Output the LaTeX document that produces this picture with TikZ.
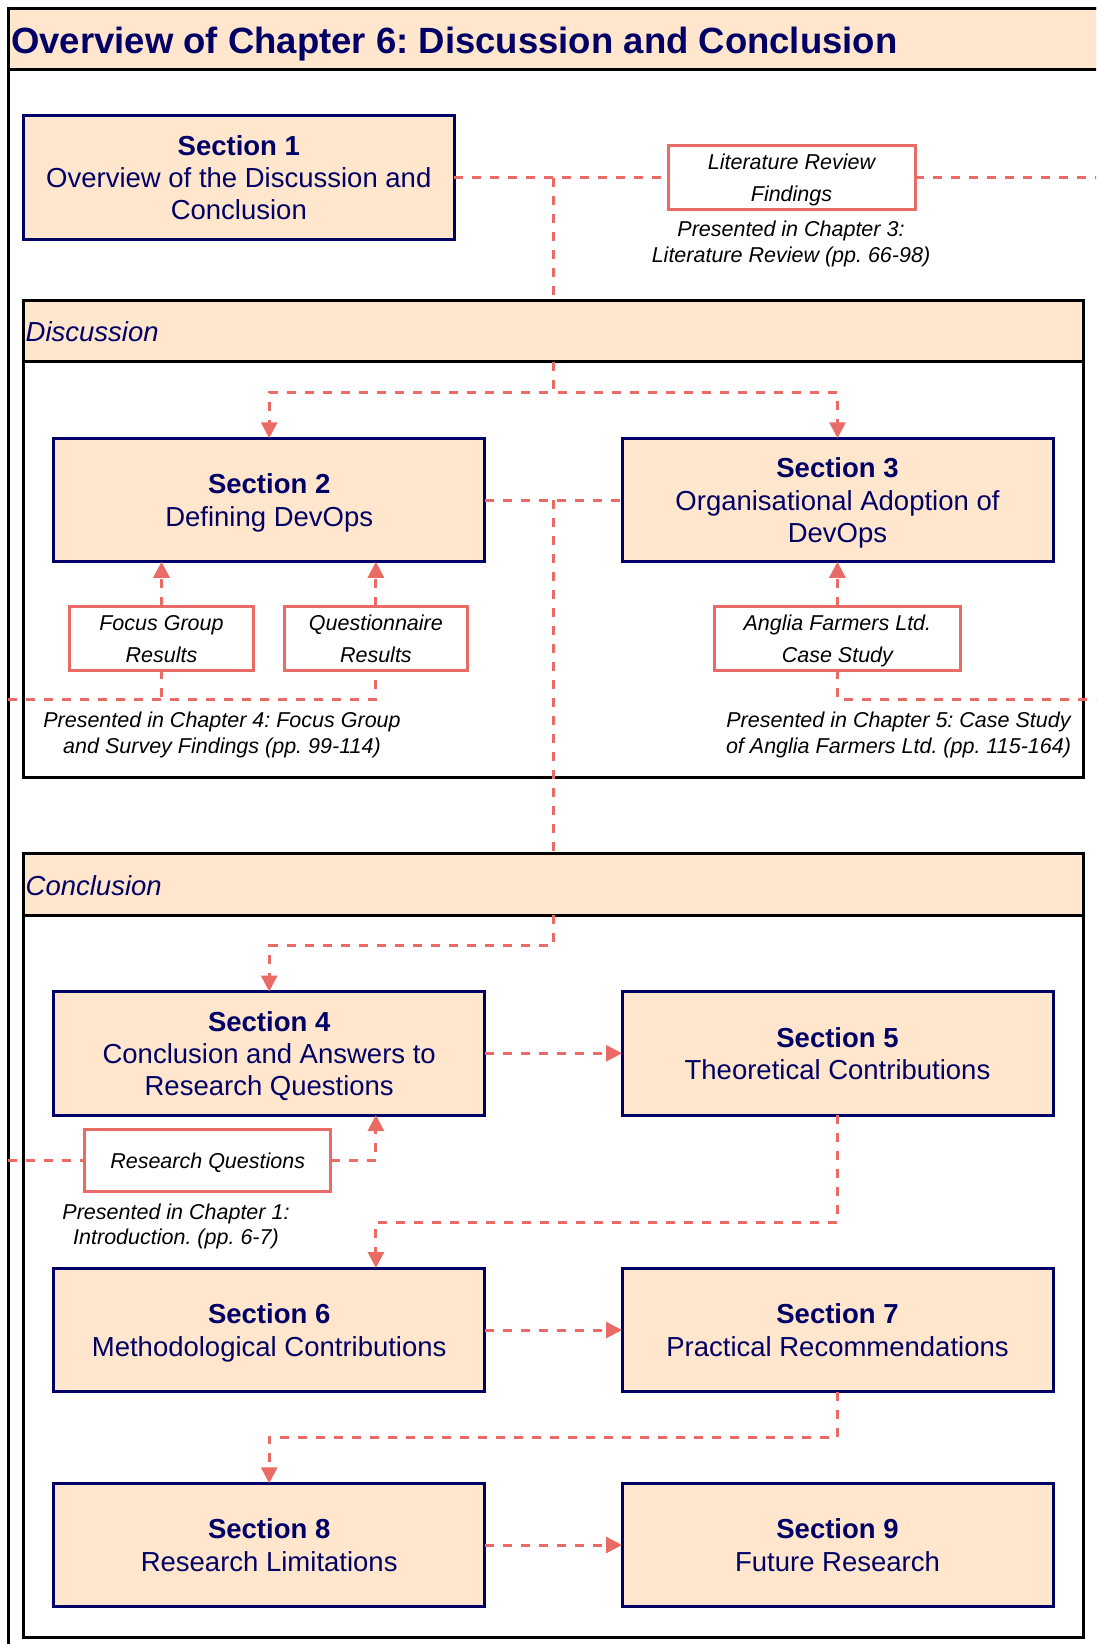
\documentclass[tikz,border=0pt]{standalone}
\usepackage{fontspec}
\setmainfont{Liberation Sans}
\usetikzlibrary{arrows.meta}

\definecolor{peach}{HTML}{FFE6CC}
\definecolor{navy}{HTML}{000066}
\definecolor{salmon}{HTML}{EA6B66}

\frenchspacing

% struts that keep every line of a block the same height
\newcommand{\secln}{\rule[-6.15pt]{0pt}{32.3pt}}
\newcommand{\noteln}{\rule[-8.3pt]{0pt}{32pt}}
\newcommand{\capln}{\rule[-5.05pt]{0pt}{25.5pt}}

\begin{document}
\begin{tikzpicture}[x=1pt,y=-1pt,
  section/.style={draw=navy, line width=3pt, fill=peach, outer sep=0pt,
    minimum width=431pt, minimum height=123.5pt, inner sep=0pt,
    align=center, text=navy, font=\fontsize{27.5}{32.3}\selectfont},
  source/.style={draw=salmon, line width=3pt, fill=white, outer sep=0pt,
    minimum height=62pt, inner sep=0pt, align=center,
    font=\fontsize{21.5}{32}\selectfont\itshape},
  caption/.style={inner sep=0pt, align=center,
    font=\fontsize{21.5}{25.5}\selectfont\itshape},
  lanebody/.style={draw=black, line width=3pt, outer sep=0pt, inner sep=0pt,
    minimum width=1060pt},
  lanehead/.style={lanebody, fill=peach},
  lanelabel/.style={inner sep=0pt, anchor=base west, text=navy,
    font=\fontsize{27.5}{32}\selectfont\itshape},
  link/.style={draw=salmon, line width=3pt, dash pattern=on 9pt off 9pt},
  flow/.style={link, -{Triangle[length=16pt,width=16pt]}}
]
\useasboundingbox (0,0) rectangle (1096,1644);
\clip (0,0) rectangle (1096,1644);

% outer frame and chapter title band
\node[draw=black, line width=3pt, inner sep=0pt, minimum width=1102pt,
      minimum height=1652pt] (frame) at (559,834) {};
\node[draw=black, fill=peach, line width=3pt, inner sep=0pt, minimum width=1102pt,
      minimum height=61.5pt] (titleband) at (559,38.75) {};
\node[inner sep=0pt, anchor=base west, text=navy,
      font=\fontsize{36.5}{40}\selectfont\bfseries] (title) at (11,53.5)
  {Overview of Chapter 6: Discussion and Conclusion};

% discussion lane
\node[lanebody, minimum height=476.3pt] (disc) at (553,538.85) {};
\node[lanehead, minimum height=61pt] (dischead) at (553,331.2) {};
\node[lanelabel] (disclabel) at (25.5,341.7) {Discussion};

% conclusion lane
\node[lanebody, minimum height=783.7pt] (conc) at (553,1245.15) {};
\node[lanehead, minimum height=61.7pt] (conchead) at (553,884.15) {};
\node[lanelabel] (conclabel) at (25.5,895) {Conclusion};

% section boxes
\node[section] (s1) at (238.8,177.5)
  {\textbf{Section 1}\secln\\Overview of the Discussion and\secln\\Conclusion\secln};
\node[section] (s2) at (269.2,500) {\textbf{Section 2}\secln\\Defining DevOps\secln};
\node[section] (s3) at (837.5,500)
  {\textbf{Section 3}\secln\\Organisational Adoption of\secln\\DevOps\secln};
\node[section] (s4) at (269.2,1053.3)
  {\textbf{Section 4}\secln\\Conclusion and Answers to\secln\\Research Questions\secln};
\node[section] (s5) at (837.5,1053.3) {\textbf{Section 5}\secln\\Theoretical Contributions\secln};
\node[section] (s6) at (269.2,1330) {\textbf{Section 6}\secln\\Methodological Contributions\secln};
\node[section] (s7) at (837.5,1330) {\textbf{Section 7}\secln\\Practical Recommendations\secln};
\node[section] (s8) at (269.2,1545) {\textbf{Section 8}\secln\\Research Limitations\secln};
\node[section] (s9) at (837.5,1545) {\textbf{Section 9}\secln\\Future Research\secln};

% source material boxes
\node[source, minimum width=247pt, minimum height=63pt] (lit) at (791.5,177.5)
  {Literature Review\noteln\\Findings\noteln};
\node[source, minimum width=184.6pt] (fg) at (161.5,638.3) {Focus Group\noteln\\Results\noteln};
\node[source, minimum width=183.8pt] (qr) at (375.9,638.3) {Questionnaire\noteln\\Results\noteln};
\node[source, minimum width=245.3pt] (af) at (837.4,638.3)
  {Anglia Farmers Ltd.\noteln\\Case Study\noteln};
\node[source, minimum width=246.2pt, minimum height=62.4pt] (rq) at (207.7,1160.5)
  {Research Questions\noteln};

% where each source is presented
\node[caption] (litcap) at (791,242)
  {Presented in Chapter 3:\capln\\Literature Review (pp. 66-98)\capln};
\node[caption] (fgcap) at (222,733)
  {Presented in Chapter 4: Focus Group\capln\\and Survey Findings (pp. 99-114)\capln};
\node[caption] (afcap) at (898.5,733)
  {Presented in Chapter 5: Case Study\capln\\of Anglia Farmers Ltd. (pp. 115-164)\capln};
\node[caption] (rqcap) at (176,1224.2)
  {Presented in Chapter 1:\capln\\Introduction. (pp. 6-7)\capln};

% free ends at the frame edges
\coordinate (litout) at (1100,177.5);
\coordinate (resleft) at (8,699.3);
\coordinate (resright) at (1100,699.3);
\coordinate (rqleft) at (8,1160.5);
\coordinate (s4in) at (375.9,1115);
\coordinate (s6in) at (375.9,1268);

% connectors: introduction and discussion
\draw[link] (s1.east) -- (lit.west);
\draw[link] (lit.east) -- (litout);
\draw[link] (disc.north |- s1.east) -- (disc.north);
\draw[flow] (dischead.south) -- ++(0,30.6) -| (s2.north);
\draw[flow] (dischead.south) -- ++(0,30.6) -| (s3.north);
\draw[link] (s2.east) -- (s3.west);
\draw[link] (disc.south |- s2.east) -- (conchead.north);
\draw[flow] (fg.north) -- (fg.north |- s2.south);
\draw[flow] (qr.north) -- (qr.north |- s2.south);
\draw[flow] (af.north) -- (af.north |- s3.south);
\draw[link] (fg.south) -- (fg.south |- resleft);
\draw[link] (resleft) -| (qr.south);
\draw[link] (af.south) |- (resright);

% connectors: conclusion
\draw[flow] (conchead.south) -- ++(0,30.7) -| (s4.north);
\draw[flow] (s4.east) -- (s5.west);
\draw[link] (rqleft) -- (rq.west);
\draw[flow] (rq.east) -| (s4in);
\draw[flow] (s5.south) -- ++(0,107.3) -| (s6in);
\draw[flow] (s6.east) -- (s7.west);
\draw[flow] (s7.south) -- ++(0,45.6) -| (s8.north);
\draw[flow] (s8.east) -- (s9.west);
\end{tikzpicture}
\end{document}
